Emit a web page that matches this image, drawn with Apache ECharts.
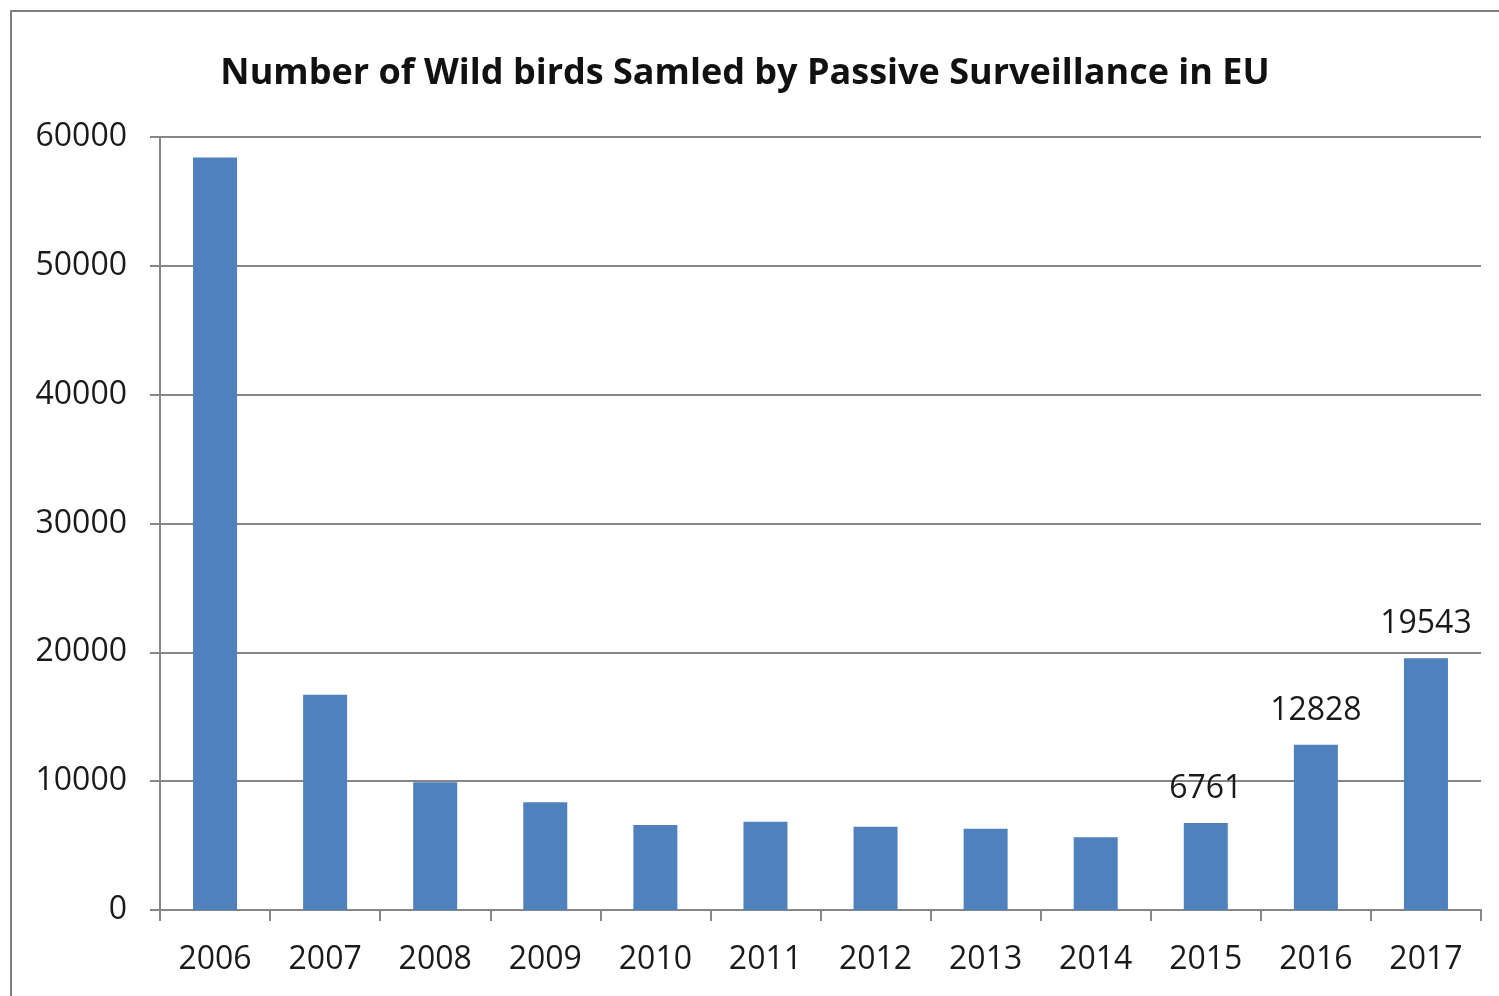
<!DOCTYPE html>
<html>
<head>
<meta charset="utf-8">
<title>Wild birds sampled</title>
<script src="https://cdn.jsdelivr.net/npm/echarts@6/dist/echarts.min.js"></script>
<style>
	html, body { margin: 0; padding: 0; background: #fff; }
	#chart { width: 1499px; height: 996px; }
</style>
</head>
<body>
<div id="chart"></div>
<script>
// 数据
var years = ['2006', '2007', '2008', '2009', '2010', '2011', '2012', '2013', '2014', '2015', '2016', '2017'];
var birds = [58400, 16700, 9910, 8360, 6600, 6850, 6470, 6310, 5640, 6761, 12828, 19543];
// 只有这几年显示数值
var labelledYears = ['2015', '2016', '2017'];
var yTicks = [0, 10000, 20000, 30000, 40000, 50000, 60000];

var font = '"Open Sans", "Noto Sans", sans-serif';
var gray = '#868686';

var barData = birds.map(function (v, k) {
	return {
		value: v,
		label: { show: labelledYears.indexOf(years[k]) >= 0 }
	};
});

var myChart = echarts.init(document.getElementById('chart'));

myChart.setOption({
	animation: false,
	backgroundColor: '#fff',
	title: {
		text: 'Number of Wild birds Samled by Passive Surveillance in EU',
		left: 740,
		textAlign: 'center',
		top: 51,
		textStyle: {
			fontFamily: font,
			fontSize: 36,
			fontWeight: 'bold',
			color: '#111'
		}
	},
	graphic: [{
		type: 'rect',
		shape: { x: 11, y: 11, width: 2000, height: 2000 },
		style: { fill: 'none', stroke: '#7f7f7f', lineWidth: 2 },
		silent: true
	}],
	grid: {
		left: 160,
		right: 18,
		top: 137,
		bottom: 86,
		containLabel: false
	},
	xAxis: {
		type: 'category',
		data: years,
		axisLine: { show: true, lineStyle: { color: gray, width: 2 } },
		axisTick: { show: true, alignWithLabel: false, length: 11, lineStyle: { color: gray, width: 2 } },
		axisLabel: {
			margin: 34,
			fontFamily: font,
			fontSize: 32,
			color: '#1a1a1a'
		}
	},
	yAxis: {
		type: 'value',
		min: yTicks[0],
		max: yTicks[yTicks.length - 1],
		interval: 10000,
		axisLine: { show: true, lineStyle: { color: gray, width: 2 } },
		axisTick: { show: true, length: 10, lineStyle: { color: gray, width: 2 } },
		splitLine: { show: true, lineStyle: { color: gray, width: 2 } },
		axisLabel: {
			margin: 33,
			fontFamily: font,
			fontSize: 32,
			color: '#1a1a1a',
			formatter: function (v) { return String(v); }
		}
	},
	series: [{
		type: 'bar',
		data: barData,
		barWidth: 44,
		itemStyle: { color: '#4f81bd' },
		label: {
			position: 'top',
			distance: 18,
			fontFamily: font,
			fontSize: 32,
			color: '#1a1a1a'
		}
	}]
});
</script>
</body>
</html>
